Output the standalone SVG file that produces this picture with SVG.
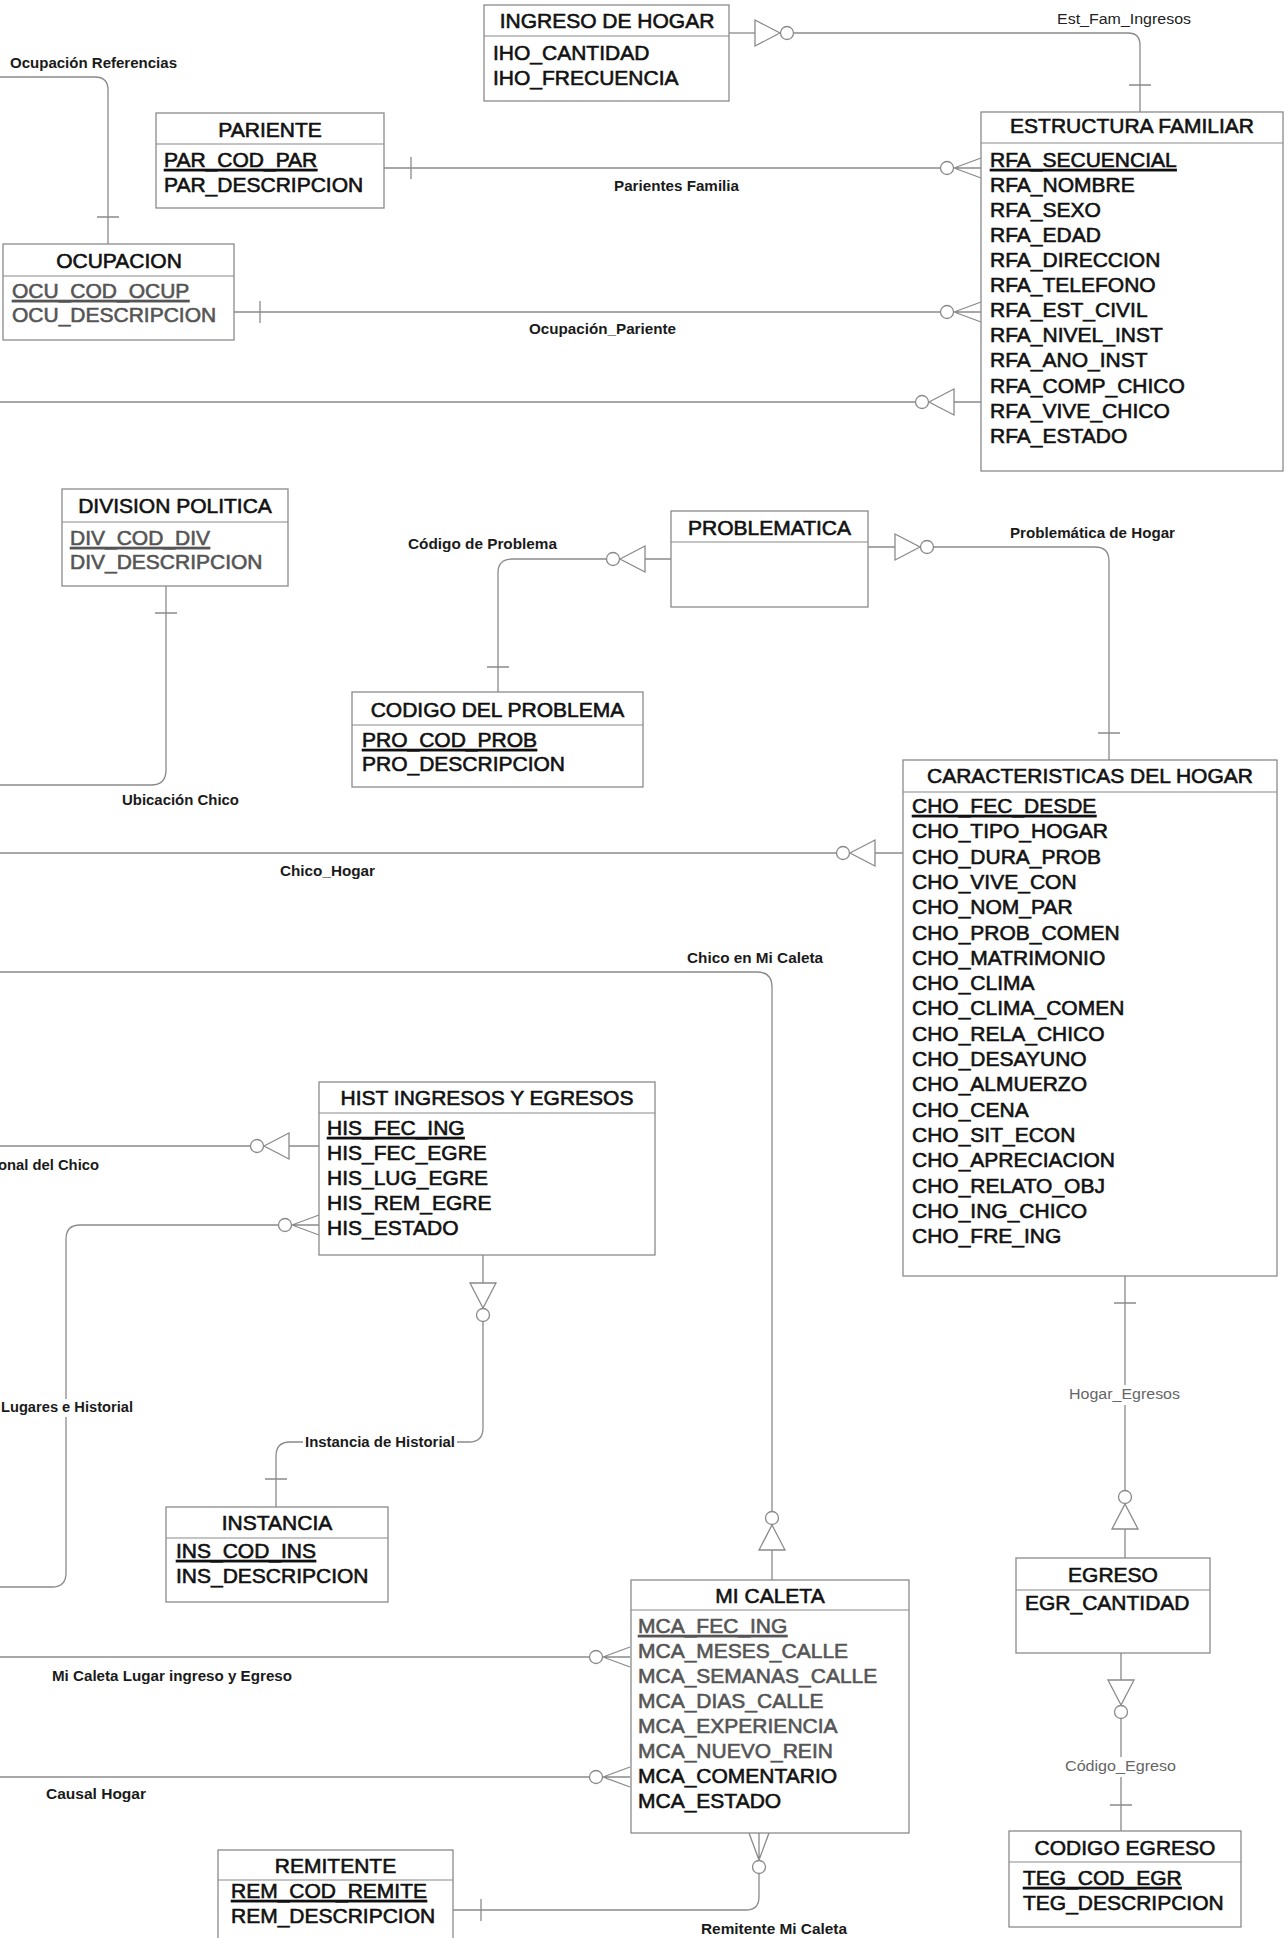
<svg xmlns="http://www.w3.org/2000/svg" xmlns:xlink="http://www.w3.org/1999/xlink" width="1287" height="1938" viewBox="0 0 1287 1938">
<style>
.box{fill:#fff;stroke:#8a8a8a;stroke-width:1.3}
.dv{stroke:#8a8a8a;stroke-width:1.2}
.t{font-family:"Liberation Sans",Arial,sans-serif;font-size:21px;fill:#111;stroke:#111;stroke-width:0.6}
.ti{text-anchor:middle}
.g{fill:#555;stroke:#555}
.k{text-decoration:underline}
.ln{fill:none;stroke:#8a8a8a;stroke-width:1.3}
.sym{fill:#fff;stroke:#8a8a8a;stroke-width:1.3}
.lbl{font-family:"Liberation Sans",Arial,sans-serif;font-size:14px;font-weight:bold;fill:#1a1a1a}
.lg{font-weight:normal;fill:#666}
.ln2{font-weight:normal;fill:#222}
.bg{fill:#fff}
</style>
<defs>
<g id="tri"><path class="ln" d="M0,0 L25,-13 L25,13 Z"/><circle class="sym" cx="-7" cy="0" r="6.5"/></g>
<g id="crow"><path class="ln" d="M0,0 L27,-10 M0,0 L27,0 M0,0 L27,10"/><circle class="sym" cx="-7" cy="0" r="6.5"/></g>
</defs>
<rect width="1287" height="1938" fill="#fff"/>

<g id="connectors">
<path class="ln" d="M729,33 H755"/>
<use xlink:href="#tri" transform="translate(780,33) rotate(180)"/>
<path class="ln" d="M794,33 H1128 Q1140,33 1140,45 V112 M1129,85 H1151"/>
<path class="ln" d="M384,168 H940 M411,157 V179"/>
<use xlink:href="#crow" transform="translate(954,168)"/>
<path class="ln" d="M234,312 H940 M260,301 V323"/>
<use xlink:href="#crow" transform="translate(954,312)"/>
<path class="ln" d="M0,402 H915 M954,402 H981"/>
<use xlink:href="#tri" transform="translate(929,402)"/>
<path class="ln" d="M671,559 H645 M606,559 H512 Q498,559 498,573 V692 M487,667 H509"/>
<use xlink:href="#tri" transform="translate(620,559)"/>
<path class="ln" d="M868,547 H895 M934,547 H1095 Q1109,547 1109,561 V760 M1098,733 H1120"/>
<use xlink:href="#tri" transform="translate(920,547) rotate(180)"/>
<path class="ln" d="M166,586 V770 Q166,785 151,785 H0 M155,613 H177"/>
<path class="ln" d="M0,853 H836 M875,853 H903"/>
<use xlink:href="#tri" transform="translate(850,853)"/>
<path class="ln" d="M0,972 H757 Q772,972 772,987 V1511 M772,1550 V1580"/>
<use xlink:href="#tri" transform="translate(772,1525) rotate(90)"/>
<path class="ln" d="M0,1146 H250 M289,1146 H319"/>
<use xlink:href="#tri" transform="translate(264,1146)"/>
<path class="ln" d="M278,1225 H80 Q66,1225 66,1239 V1573 Q66,1587 52,1587 H0"/>
<use xlink:href="#crow" transform="translate(292,1225)"/>
<path class="ln" d="M483,1255 V1283 M483,1322 V1428 Q483,1442 469,1442 H290 Q276,1442 276,1456 V1507 M265,1479 H287"/>
<use xlink:href="#tri" transform="translate(483,1308) rotate(-90)"/>
<path class="ln" d="M1125,1276 V1490 M1114,1303 H1136 M1125,1529 V1558"/>
<use xlink:href="#tri" transform="translate(1125,1504) rotate(90)"/>
<path class="ln" d="M1121,1653 V1680 M1121,1719 V1831 M1110,1805 H1132"/>
<use xlink:href="#tri" transform="translate(1121,1705) rotate(-90)"/>
<path class="ln" d="M0,1657 H589 M0,1777 H589"/>
<use xlink:href="#crow" transform="translate(603,1657)"/>
<use xlink:href="#crow" transform="translate(603,1777)"/>
<path class="ln" d="M759,1874 V1897 Q759,1910 746,1910 H453 M481,1899 V1921"/>
<use xlink:href="#crow" transform="translate(759,1860) rotate(-90)"/>
<path class="ln" d="M0,77 H95 Q108,77 108,90 V244 M97,217 H119"/>

<text class="lbl" x="10" y="68" textLength="167" lengthAdjust="spacingAndGlyphs">Ocupación Referencias</text>
<text class="lbl ln2" x="1057" y="24" textLength="134" lengthAdjust="spacingAndGlyphs">Est_Fam_Ingresos</text>
<text class="lbl" x="614" y="191" textLength="125" lengthAdjust="spacingAndGlyphs">Parientes Familia</text>
<text class="lbl" x="529" y="334" textLength="147" lengthAdjust="spacingAndGlyphs">Ocupación_Pariente</text>
<text class="lbl" x="408" y="549" textLength="149" lengthAdjust="spacingAndGlyphs">Código de Problema</text>
<text class="lbl" x="1010" y="538" textLength="165" lengthAdjust="spacingAndGlyphs">Problemática de Hogar</text>
<text class="lbl" x="122" y="805" textLength="117" lengthAdjust="spacingAndGlyphs">Ubicación Chico</text>
<text class="lbl" x="280" y="876" textLength="95" lengthAdjust="spacingAndGlyphs">Chico_Hogar</text>
<text class="lbl" x="687" y="963" textLength="136" lengthAdjust="spacingAndGlyphs">Chico en Mi Caleta</text>
<text class="lbl" x="-2" y="1170" textLength="101" lengthAdjust="spacingAndGlyphs">onal del Chico</text>
<rect class="bg" x="0" y="1399" width="136" height="18"/>
<text class="lbl" x="1" y="1412" textLength="132" lengthAdjust="spacingAndGlyphs">Lugares e Historial</text>
<rect class="bg" x="303" y="1433" width="154" height="18"/>
<text class="lbl" x="305" y="1447" textLength="150" lengthAdjust="spacingAndGlyphs">Instancia de Historial</text>
<rect class="bg" x="1066" y="1385" width="117" height="20"/>
<text class="lbl lg" x="1069" y="1399" textLength="111" lengthAdjust="spacingAndGlyphs">Hogar_Egresos</text>
<rect class="bg" x="1062" y="1757" width="117" height="20"/>
<text class="lbl lg" x="1065" y="1771" textLength="111" lengthAdjust="spacingAndGlyphs">Código_Egreso</text>
<text class="lbl" x="52" y="1681" textLength="240" lengthAdjust="spacingAndGlyphs">Mi Caleta Lugar ingreso y Egreso</text>
<text class="lbl" x="46" y="1799" textLength="100" lengthAdjust="spacingAndGlyphs">Causal Hogar</text>
<text class="lbl" x="701" y="1934" textLength="146" lengthAdjust="spacingAndGlyphs">Remitente Mi Caleta</text>
</g>

<g id="ingreso-de-hogar">
<rect class="box" x="484" y="5" width="245" height="96"/>
<line class="dv" x1="484" y1="36" x2="729" y2="36"/>
<text class="t ti" x="607" y="28">INGRESO DE HOGAR</text>
<text class="t" x="493" y="60">IHO_CANTIDAD</text>
<text class="t" x="493" y="85">IHO_FRECUENCIA</text>
</g>

<g id="pariente">
<rect class="box" x="156" y="113" width="228" height="95"/>
<line class="dv" x1="156" y1="144" x2="384" y2="144"/>
<text class="t ti" x="270" y="137">PARIENTE</text>
<text class="t k" x="164" y="167">PAR_COD_PAR</text>
<text class="t" x="164" y="192">PAR_DESCRIPCION</text>
</g>

<g id="ocupacion">
<rect class="box" x="3" y="244" width="231" height="96"/>
<line class="dv" x1="3" y1="276" x2="234" y2="276"/>
<text class="t ti" x="119" y="268">OCUPACION</text>
<text class="t g k" x="12" y="298">OCU_COD_OCUP</text>
<text class="t g" x="12" y="322">OCU_DESCRIPCION</text>
</g>

<g id="estructura-familiar">
<rect class="box" x="981" y="112" width="302" height="359"/>
<line class="dv" x1="981" y1="143" x2="1283" y2="143"/>
<text class="t ti" x="1132" y="133">ESTRUCTURA FAMILIAR</text>
<text class="t k" x="990" y="167">RFA_SECUENCIAL</text>
<text class="t" x="990" y="192">RFA_NOMBRE</text>
<text class="t" x="990" y="217">RFA_SEXO</text>
<text class="t" x="990" y="242">RFA_EDAD</text>
<text class="t" x="990" y="267">RFA_DIRECCION</text>
<text class="t" x="990" y="292">RFA_TELEFONO</text>
<text class="t" x="990" y="317">RFA_EST_CIVIL</text>
<text class="t" x="990" y="342">RFA_NIVEL_INST</text>
<text class="t" x="990" y="367">RFA_ANO_INST</text>
<text class="t" x="990" y="393">RFA_COMP_CHICO</text>
<text class="t" x="990" y="418">RFA_VIVE_CHICO</text>
<text class="t" x="990" y="443">RFA_ESTADO</text>
</g>

<g id="division-politica">
<rect class="box" x="62" y="489" width="226" height="97"/>
<line class="dv" x1="62" y1="522" x2="288" y2="522"/>
<text class="t ti" x="175" y="513">DIVISION POLITICA</text>
<text class="t g k" x="70" y="545">DIV_COD_DIV</text>
<text class="t g" x="70" y="569">DIV_DESCRIPCION</text>
</g>

<g id="problematica">
<rect class="box" x="671" y="511" width="197" height="96"/>
<line class="dv" x1="671" y1="542" x2="868" y2="542"/>
<text class="t ti" x="769.5" y="535">PROBLEMATICA</text>
</g>

<g id="codigo-del-problema">
<rect class="box" x="352" y="692" width="291" height="95"/>
<line class="dv" x1="352" y1="725" x2="643" y2="725"/>
<text class="t ti" x="497.5" y="717">CODIGO DEL PROBLEMA</text>
<text class="t k" x="362" y="747">PRO_COD_PROB</text>
<text class="t" x="362" y="771">PRO_DESCRIPCION</text>
</g>

<g id="caracteristicas-del-hogar">
<rect class="box" x="903" y="760" width="374" height="516"/>
<line class="dv" x1="903" y1="792" x2="1277" y2="792"/>
<text class="t ti" x="1090" y="783">CARACTERISTICAS DEL HOGAR</text>
<text class="t k" x="912" y="813">CHO_FEC_DESDE</text>
<text class="t" x="912" y="838">CHO_TIPO_HOGAR</text>
<text class="t" x="912" y="864">CHO_DURA_PROB</text>
<text class="t" x="912" y="889">CHO_VIVE_CON</text>
<text class="t" x="912" y="914">CHO_NOM_PAR</text>
<text class="t" x="912" y="940">CHO_PROB_COMEN</text>
<text class="t" x="912" y="965">CHO_MATRIMONIO</text>
<text class="t" x="912" y="990">CHO_CLIMA</text>
<text class="t" x="912" y="1015">CHO_CLIMA_COMEN</text>
<text class="t" x="912" y="1041">CHO_RELA_CHICO</text>
<text class="t" x="912" y="1066">CHO_DESAYUNO</text>
<text class="t" x="912" y="1091">CHO_ALMUERZO</text>
<text class="t" x="912" y="1117">CHO_CENA</text>
<text class="t" x="912" y="1142">CHO_SIT_ECON</text>
<text class="t" x="912" y="1167">CHO_APRECIACION</text>
<text class="t" x="912" y="1193">CHO_RELATO_OBJ</text>
<text class="t" x="912" y="1218">CHO_ING_CHICO</text>
<text class="t" x="912" y="1243">CHO_FRE_ING</text>
</g>

<g id="hist-ingresos-y-egresos">
<rect class="box" x="319" y="1082" width="336" height="173"/>
<line class="dv" x1="319" y1="1113" x2="655" y2="1113"/>
<text class="t ti" x="487" y="1105">HIST INGRESOS Y EGRESOS</text>
<text class="t k" x="327" y="1135">HIS_FEC_ING</text>
<text class="t" x="327" y="1160">HIS_FEC_EGRE</text>
<text class="t" x="327" y="1185">HIS_LUG_EGRE</text>
<text class="t" x="327" y="1210">HIS_REM_EGRE</text>
<text class="t" x="327" y="1235">HIS_ESTADO</text>
</g>

<g id="instancia">
<rect class="box" x="166" y="1507" width="222" height="95"/>
<line class="dv" x1="166" y1="1538" x2="388" y2="1538"/>
<text class="t ti" x="277" y="1530">INSTANCIA</text>
<text class="t k" x="176" y="1558">INS_COD_INS</text>
<text class="t" x="176" y="1583">INS_DESCRIPCION</text>
</g>

<g id="mi-caleta">
<rect class="box" x="631" y="1580" width="278" height="253"/>
<line class="dv" x1="631" y1="1610" x2="909" y2="1610"/>
<text class="t ti" x="770" y="1603">MI CALETA</text>
<text class="t g k" x="638" y="1633">MCA_FEC_ING</text>
<text class="t g" x="638" y="1658">MCA_MESES_CALLE</text>
<text class="t g" x="638" y="1683">MCA_SEMANAS_CALLE</text>
<text class="t g" x="638" y="1708">MCA_DIAS_CALLE</text>
<text class="t g" x="638" y="1733">MCA_EXPERIENCIA</text>
<text class="t g" x="638" y="1758">MCA_NUEVO_REIN</text>
<text class="t" x="638" y="1783">MCA_COMENTARIO</text>
<text class="t" x="638" y="1808">MCA_ESTADO</text>
</g>

<g id="egreso">
<rect class="box" x="1016" y="1558" width="194" height="95"/>
<line class="dv" x1="1016" y1="1590" x2="1210" y2="1590"/>
<text class="t ti" x="1113" y="1582">EGRESO</text>
<text class="t" x="1025" y="1610">EGR_CANTIDAD</text>
</g>

<g id="codigo-egreso">
<rect class="box" x="1009" y="1831" width="232" height="96"/>
<line class="dv" x1="1009" y1="1862" x2="1241" y2="1862"/>
<text class="t ti" x="1125" y="1855">CODIGO EGRESO</text>
<text class="t k" x="1023" y="1885">TEG_COD_EGR</text>
<text class="t" x="1023" y="1910">TEG_DESCRIPCION</text>
</g>

<g id="remitente">
<rect class="box" x="218" y="1850" width="235" height="100"/>
<line class="dv" x1="218" y1="1880" x2="453" y2="1880"/>
<text class="t ti" x="335.5" y="1873">REMITENTE</text>
<text class="t k" x="231" y="1898">REM_COD_REMITE</text>
<text class="t" x="231" y="1923">REM_DESCRIPCION</text>
</g>
</svg>
